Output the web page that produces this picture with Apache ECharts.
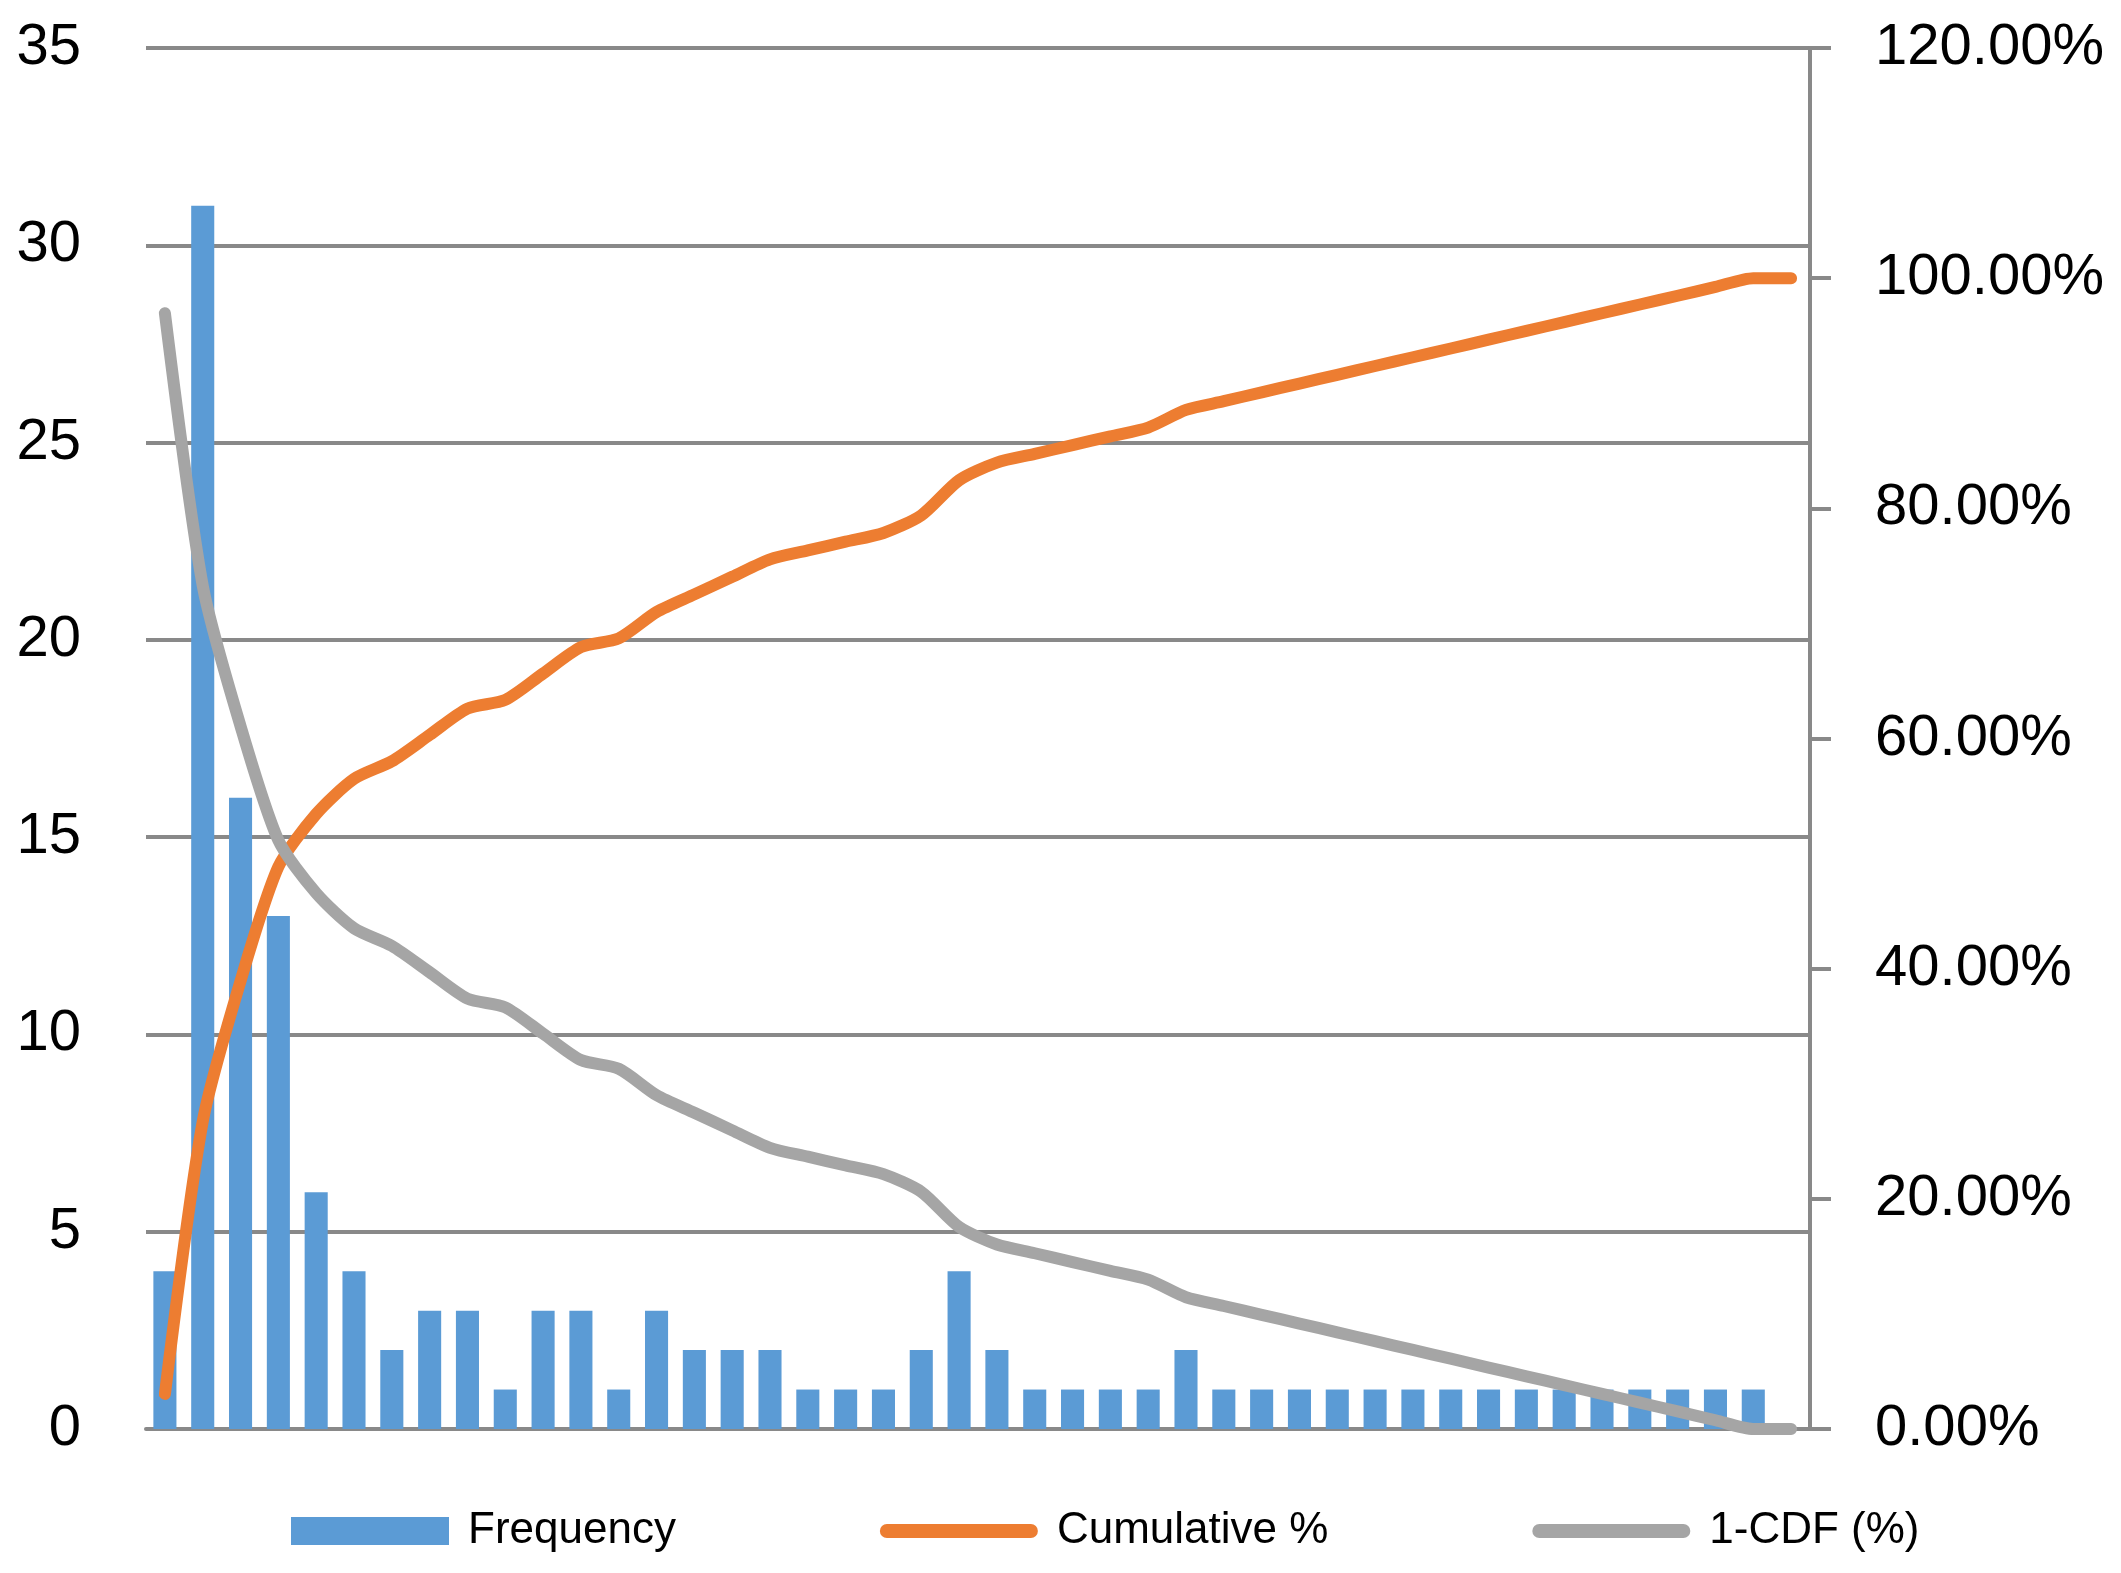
<!DOCTYPE html>
<html>
<head>
<meta charset="utf-8">
<script src="https://cdn.jsdelivr.net/npm/echarts@6/dist/echarts.min.js"></script>
<style>
html,body{margin:0;padding:0;background:#fff;}
#chart{width:2121px;height:1573px;}
</style>
</head>
<body>
<div id="chart"></div>
<script>
const categories = ['1','2','3','4','5','6','7','8','9','10','11','12','13','14','15','16','17','18','19','20','21','22','23','24','25','26','27','28','29','30','31','32','33','34','35','36','37','38','39','40','41','42','43','More'];
const frequency = [4,31,16,13,6,4,2,3,3,1,3,3,1,3,2,2,2,1,1,1,2,4,2,1,1,1,1,2,1,1,1,1,1,1,1,1,1,1,1,1,1,1,1,0];
const cumulativePct = [3.05,26.72,38.93,48.85,53.44,56.49,58.02,60.31,62.60,63.36,65.65,67.94,68.70,70.99,72.52,74.05,75.57,76.34,77.10,77.86,79.39,82.44,83.97,84.73,85.50,86.26,87.02,88.55,89.31,90.08,90.84,91.60,92.37,93.13,93.89,94.66,95.42,96.18,96.95,97.71,98.47,99.24,100.00,100.00];
const oneMinusCdfPct = [96.95,73.28,61.07,51.15,46.56,43.51,41.98,39.69,37.40,36.64,34.35,32.06,31.30,29.01,27.48,25.95,24.43,23.66,22.90,22.14,20.61,17.56,16.03,15.27,14.50,13.74,12.98,11.45,10.69,9.92,9.16,8.40,7.63,6.87,6.11,5.34,4.58,3.82,3.05,2.29,1.53,0.76,0.00,0.00];
const seriesNames = ['Frequency','Cumulative %','1-CDF (%)'];

const FONT = '"Liberation Sans", Arial, sans-serif';
const AXIS_GRAY = '#898989';
const LEGEND_LINE = 'path://M7,0 H151 A7,7 0 0 1 151,14 H7 A7,7 0 0 1 7,0 Z';

const chart = echarts.init(document.getElementById('chart'), null, {renderer:'canvas'});
chart.setOption({
  animation: false,
  backgroundColor: '#ffffff',
  grid: {left: 146, right: 311, top: 48, bottom: 144, containLabel: false},
  legend: {
    left: 291, top: 1509, padding: 0,
    itemWidth: 158, itemHeight: 28, itemGap: 204,
    textStyle: {fontFamily: FONT, fontSize: 44, color: '#000', padding: [0,0,0,14]},
    data: [
      {name: seriesNames[0], icon: 'rect'},
      {name: seriesNames[1], icon: LEGEND_LINE, itemStyle: {color: '#ed7d31'}},
      {name: seriesNames[2], icon: LEGEND_LINE, itemStyle: {color: '#a5a5a5'}}
    ]
  },
  xAxis: {
    type: 'category', data: categories,
    axisLine: {show: true, lineStyle: {color: AXIS_GRAY, width: 4}},
    axisTick: {show: false}, axisLabel: {show: false}, splitLine: {show: false}
  },
  yAxis: [
    {
      type: 'value', min: 0, max: 35, interval: 5, position: 'left',
      axisLine: {show: false}, axisTick: {show: false},
      axisLabel: {fontFamily: FONT, fontSize: 58, color: '#000', margin: 65},
      splitLine: {show: true, lineStyle: {color: AXIS_GRAY, width: 4}}
    },
    {
      type: 'value', min: 0, max: 120, interval: 20, position: 'right',
      axisLine: {show: true, lineStyle: {color: AXIS_GRAY, width: 4}},
      axisTick: {show: true, inside: false, length: 21, lineStyle: {color: AXIS_GRAY, width: 4}},
      axisLabel: {fontFamily: FONT, fontSize: 58, color: '#000', margin: 65,
        formatter: v => v.toFixed(2) + '%'},
      splitLine: {show: false}
    }
  ],
  series: [
    {name: seriesNames[0], type: 'bar', data: frequency, yAxisIndex: 0,
     barWidth: '61%', itemStyle: {color: '#5b9bd5'}},
    {name: seriesNames[1], type: 'line', data: cumulativePct, yAxisIndex: 1,
     symbol: 'none', smooth: 0.25, itemStyle: {color: '#ed7d31'},
     lineStyle: {color: '#ed7d31', width: 12, cap: 'round', join: 'round'}},
    {name: seriesNames[2], type: 'line', data: oneMinusCdfPct, yAxisIndex: 1,
     symbol: 'none', smooth: 0.25, itemStyle: {color: '#a5a5a5'},
     lineStyle: {color: '#a5a5a5', width: 12, cap: 'round', join: 'round'}}
  ]
});
</script>
</body>
</html>
